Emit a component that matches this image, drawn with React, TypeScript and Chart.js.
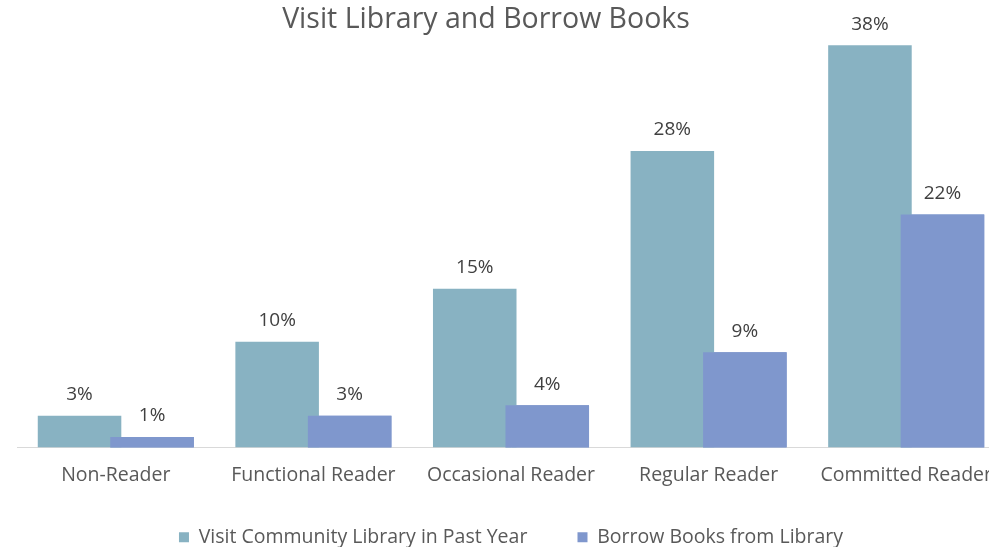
import { useEffect, useRef } from 'react';
import { Chart, registerables } from 'chart.js';

Chart.register(...registerables);

const chartTitle = 'Visit Library and Borrow Books';
const categories = ['Non-Reader', 'Functional Reader', 'Occasional Reader', 'Regular Reader', 'Committed Reader'];
const seriesNames = ['Visit Community Library in Past Year', 'Borrow Books from Library'];
const visitValues = [3, 10, 15, 28, 38];
const borrowValues = [1, 3, 4, 9, 22];

const FONT = "'Open Sans', 'Noto Sans', sans-serif";

export default function App() {
  const ref = useRef<HTMLCanvasElement>(null);

  useEffect(() => {
    if (!ref.current) return;
    const overlayPlugin = {
      id: 'overlay',
      afterDatasetsDraw(chart: any) {
        const ctx = chart.ctx;
        // second series overlaps the first one
        chart.getDatasetMeta(1).data.forEach((el: any) => el.draw(ctx));
        ctx.save();
        ctx.font = `19px ${FONT}`;
        ctx.fillStyle = '#404040';
        ctx.textAlign = 'center';
        ctx.textBaseline = 'middle';
        chart.data.datasets.forEach((ds: any, di: number) => {
          chart.getDatasetMeta(di).data.forEach((el: any, i: number) => {
            ctx.fillText(ds.data[i] + '%', el.x, el.y - 21);
          });
        });
        ctx.restore();
      },
      afterDraw(chart: any) {
        const ctx = chart.ctx;
        ctx.save();
        ctx.font = `28.5px ${FONT}`;
        ctx.fillStyle = '#595959';
        ctx.textAlign = 'center';
        ctx.textBaseline = 'middle';
        ctx.fillText(chartTitle, 486, 20);
        ctx.restore();
      },
    };

    const chart = new Chart(ref.current, {
      type: 'bar',
      data: {
        labels: categories,
        datasets: [
          {
            label: seriesNames[0],
            data: visitValues,
            backgroundColor: '#88B2C2',
            categoryPercentage: 0.734,
            barPercentage: 1.152,
          },
          {
            label: seriesNames[1],
            data: borrowValues,
            backgroundColor: '#7F97CD',
            categoryPercentage: 0.734,
            barPercentage: 1.152,
          },
        ],
      },
      options: {
        responsive: false,
        animation: false,
        devicePixelRatio: 1,
        layout: { padding: { top: 24, left: 17, right: 17, bottom: 0 } },
        scales: {
          x: {
            grid: { display: false, drawTicks: false },
            border: { color: '#D9D9D9', width: 1 },
            ticks: { color: '#595959', font: { family: FONT, size: 19.5 }, padding: 16, maxRotation: 0, autoSkip: false },
            afterFit: (scale: any) => { scale.height = 40; },
          },
          y: { display: false, min: 0, max: 40 },
        },
        plugins: {
          legend: {
            position: 'bottom',
            labels: {
              color: '#595959',
              font: { family: FONT, size: 19.5 },
              boxWidth: 10,
              boxHeight: 10,
              padding: 40,
              generateLabels: (c: any) => {
                const items = Chart.defaults.plugins.legend.labels.generateLabels(c);
                items.forEach((it: any, i: number) => {
                  if (i === 0) it.text = it.text + '  ';
                });
                return items;
              },
            },
          },
          tooltip: { enabled: false },
          title: { display: false },
        },
      },
      plugins: [overlayPlugin],
    });
    return () => chart.destroy();
  }, []);

  return (
    <div style={{ position: 'fixed', left: 0, top: 0, width: 989, height: 547, overflow: 'hidden', background: '#fff' }}>
      <canvas ref={ref} width={1022} height={557} style={{ display: 'block' }} />
    </div>
  );
}
